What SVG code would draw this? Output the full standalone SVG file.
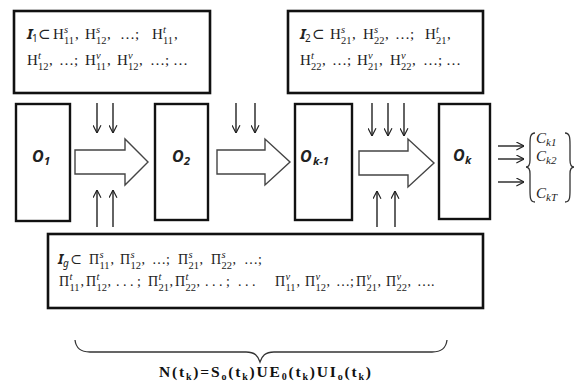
<svg xmlns="http://www.w3.org/2000/svg" width="580" height="382" viewBox="0 0 580 382">
  <style>
    .t { font-family: "Liberation Serif", "DejaVu Serif", serif; font-size: 15px; fill: #222; }
    .b { font-size: 14px; }
    .sc { font-size: 10.5px; }
    .it { font-style: italic; }
    .bi { font-family: "Noto Sans", "DejaVu Sans", sans-serif; font-style: italic; font-weight: bold; }
    .sub1 { font-family: "Noto Sans", "DejaVu Sans", sans-serif; font-size: 10px; }
    .box { fill: #fff; stroke: #111; stroke-width: 2.6; }
    .obox { fill: #fff; stroke: #111; stroke-width: 2.4; }
    .big { fill: #fff; stroke: #444; stroke-width: 1.4; stroke-linejoin: miter; }
    .small { fill: none; stroke: #222; stroke-width: 1.4; marker-end: url(#head); }
    .lab { font-family: "Noto Sans", "DejaVu Sans", sans-serif; font-size: 16px; font-style: italic; font-weight: bold; fill: #222; }
    .labsub { font-size: 11px; }
    .ck { font-family: "Liberation Serif", "DejaVu Serif", serif; font-size: 15px; font-style: italic; fill: #222; }
    .brace { fill: none; stroke: #333; stroke-width: 1.3; }
    .form { font-family: "Liberation Serif", "Times New Roman", serif; font-size: 15.5px; font-weight: bold; fill: #111; }
  </style>
  <defs>
    <marker id="head" viewBox="0 0 10 10" refX="9.5" refY="5" markerWidth="9" markerHeight="9" markerUnits="userSpaceOnUse" orient="auto">
      <path d="M1,0.6 L9.5,5 L1,9.4" fill="none" stroke="#222" stroke-width="1.3"/>
    </marker>
  </defs>

  <!-- input set I1 -->
  <g id="input-i1">
    <rect class="box" x="14" y="11" width="196" height="82"/>
    <text class="t">
      <tspan x="27" y="39" class="bi">I</tspan><tspan x="32" y="42" class="sub1">1</tspan><tspan x="38" y="39">⊂</tspan>
      <tspan x="53" y="39">H</tspan><tspan x="64" y="33" class="sc it">s</tspan><tspan x="64" y="43.5" class="sc">11</tspan><tspan x="75" y="39">,</tspan>
      <tspan x="85" y="39">H</tspan><tspan x="96" y="33" class="sc it">s</tspan><tspan x="96" y="43.5" class="sc">12</tspan><tspan x="107" y="39">,</tspan>
      <tspan x="120" y="39">…;</tspan>
      <tspan x="152" y="39">H</tspan><tspan x="163" y="33" class="sc it">t</tspan><tspan x="163" y="43.5" class="sc">11</tspan><tspan x="174" y="39">,</tspan>
      <tspan x="27" y="65">H</tspan><tspan x="38" y="59" class="sc it">t</tspan><tspan x="38" y="69.5" class="sc">12</tspan><tspan x="49" y="65">,</tspan>
      <tspan x="59" y="65">…;</tspan>
      <tspan x="85" y="65">H</tspan><tspan x="96" y="59" class="sc it">v</tspan><tspan x="96" y="69.5" class="sc">11</tspan><tspan x="107" y="65">,</tspan>
      <tspan x="117" y="65">H</tspan><tspan x="128" y="59" class="sc it">v</tspan><tspan x="128" y="69.5" class="sc">12</tspan><tspan x="139" y="65">,</tspan>
      <tspan x="150" y="65">…; …</tspan>
    </text>
  </g>

  <!-- input set I2 -->
  <g id="input-i2">
    <rect class="box" x="288" y="11" width="195" height="82"/>
    <text class="t">
      <tspan x="300" y="39" class="bi">I</tspan><tspan x="305" y="42" class="sub1">2</tspan><tspan x="312" y="39">⊂</tspan>
      <tspan x="330" y="39">H</tspan><tspan x="341" y="33" class="sc it">s</tspan><tspan x="341" y="43.5" class="sc">21</tspan><tspan x="352" y="39">,</tspan>
      <tspan x="363" y="39">H</tspan><tspan x="374" y="33" class="sc it">s</tspan><tspan x="374" y="43.5" class="sc">22</tspan><tspan x="385" y="39">,</tspan>
      <tspan x="395" y="39">…;</tspan>
      <tspan x="425" y="39">H</tspan><tspan x="436" y="33" class="sc it">t</tspan><tspan x="436" y="43.5" class="sc">21</tspan><tspan x="447" y="39">,</tspan>
      <tspan x="300" y="65">H</tspan><tspan x="311" y="59" class="sc it">t</tspan><tspan x="311" y="69.5" class="sc">22</tspan><tspan x="322" y="65">,</tspan>
      <tspan x="332" y="65">…;</tspan>
      <tspan x="357" y="65">H</tspan><tspan x="368" y="59" class="sc it">v</tspan><tspan x="368" y="69.5" class="sc">21</tspan><tspan x="379" y="65">,</tspan>
      <tspan x="390" y="65">H</tspan><tspan x="401" y="59" class="sc it">v</tspan><tspan x="401" y="69.5" class="sc">22</tspan><tspan x="412" y="65">,</tspan>
      <tspan x="423" y="65">…; …</tspan>
    </text>
  </g>

  <!-- states O -->
  <g id="state-o1">
    <rect class="obox" x="16" y="104" width="54" height="117"/>
    <text class="lab"><tspan x="32" y="162">O</tspan><tspan x="44" y="165" class="labsub">1</tspan></text>
  </g>
  <g id="state-o2">
    <rect class="obox" x="155" y="104" width="53" height="116"/>
    <text class="lab"><tspan x="172" y="162">O</tspan><tspan x="184" y="165" class="labsub">2</tspan></text>
  </g>
  <g id="state-ok-1">
    <rect class="obox" x="295" y="104" width="57" height="116"/>
    <text class="lab"><tspan x="300" y="162">O</tspan><tspan x="313" y="165" class="labsub">k-1</tspan></text>
  </g>
  <g id="state-ok">
    <rect class="obox" x="439" y="104" width="51" height="115"/>
    <text class="lab"><tspan x="453" y="161">O</tspan><tspan x="465" y="164" class="labsub">k</tspan></text>
  </g>

  <!-- input set Ig -->
  <g id="input-ig">
    <rect class="box" x="48" y="234" width="435" height="74"/>
    <text class="t b">
      <tspan x="58" y="264" class="bi">I</tspan><tspan x="63" y="267" class="sub1 it">g</tspan><tspan x="70" y="264">⊂</tspan>
      <tspan x="89" y="264">Π</tspan><tspan x="99.5" y="258" class="sc it">s</tspan><tspan x="99.5" y="268.5" class="sc">11</tspan><tspan x="110.5" y="264">,</tspan>
      <tspan x="120" y="264">Π</tspan><tspan x="130.5" y="258" class="sc it">s</tspan><tspan x="130.5" y="268.5" class="sc">12</tspan><tspan x="141.5" y="264">,</tspan>
      <tspan x="152" y="264">…;</tspan>
      <tspan x="178" y="264">Π</tspan><tspan x="188.5" y="258" class="sc it">s</tspan><tspan x="188.5" y="268.5" class="sc">21</tspan><tspan x="199.5" y="264">,</tspan>
      <tspan x="211" y="264">Π</tspan><tspan x="221.5" y="258" class="sc it">s</tspan><tspan x="221.5" y="268.5" class="sc">22</tspan><tspan x="232.5" y="264">,</tspan>
      <tspan x="244" y="264">…;</tspan>
      <tspan x="59" y="286">Π</tspan><tspan x="69.5" y="280" class="sc it">t</tspan><tspan x="69.5" y="290.5" class="sc">11</tspan><tspan x="80.5" y="286">,</tspan>
      <tspan x="86" y="286">Π</tspan><tspan x="96.5" y="280" class="sc it">t</tspan><tspan x="96.5" y="290.5" class="sc">12</tspan><tspan x="107.5" y="286">,</tspan>
      <tspan x="116" y="286">. . . ;</tspan>
      <tspan x="148" y="286">Π</tspan><tspan x="158.5" y="280" class="sc it">t</tspan><tspan x="158.5" y="290.5" class="sc">21</tspan><tspan x="169.5" y="286">,</tspan>
      <tspan x="175" y="286">Π</tspan><tspan x="185.5" y="280" class="sc it">t</tspan><tspan x="185.5" y="290.5" class="sc">22</tspan><tspan x="196.5" y="286">,</tspan>
      <tspan x="205" y="286">. . . ;</tspan>
      <tspan x="238" y="286">. . .</tspan>
      <tspan x="275" y="286">Π</tspan><tspan x="285.5" y="280" class="sc it">v</tspan><tspan x="285.5" y="290.5" class="sc">11</tspan><tspan x="296.5" y="286">,</tspan>
      <tspan x="305" y="286">Π</tspan><tspan x="315.5" y="280" class="sc it">v</tspan><tspan x="315.5" y="290.5" class="sc">12</tspan><tspan x="326.5" y="286">,</tspan>
      <tspan x="336" y="286">…;</tspan>
      <tspan x="356" y="286">Π</tspan><tspan x="366.5" y="280" class="sc it">v</tspan><tspan x="366.5" y="290.5" class="sc">21</tspan><tspan x="377.5" y="286">,</tspan>
      <tspan x="386" y="286">Π</tspan><tspan x="396.5" y="280" class="sc it">v</tspan><tspan x="396.5" y="290.5" class="sc">22</tspan><tspan x="407.5" y="286">,</tspan>
      <tspan x="417" y="286">….</tspan>
    </text>
  </g>

  <!-- outcomes C -->
  <g id="outcomes-c">
    <path class="brace" d="M535,133 C530,133 530,138 530,145 L530,160 C530,165 529,167 526,167 C529,167 530,169 530,174 L530,190 C530,197 530,202 535,202"/>
    <path class="brace" d="M565,133 C570,133 570,138 570,145 L570,160 C570,165 571,167 574,167 C571,167 570,169 570,174 L570,190 C570,197 570,202 565,202"/>
    <text class="ck">
      <tspan x="536" y="143">C</tspan><tspan x="546" y="146" font-size="11">k1</tspan>
      <tspan x="536" y="161">C</tspan><tspan x="546" y="164" font-size="11">k2</tspan>
      <tspan x="536" y="198">C</tspan><tspan x="546" y="201" font-size="11">kT</tspan>
    </text>
  </g>

  <!-- transitions and inputs -->
  <g id="connectors">
    <path class="big" d="M75,150 L125,150 L125,139 L148,162 L125,185 L125,174 L75,174 Z"/>
    <path class="big" d="M217,150 L265,150 L265,139 L290,162 L265,185 L265,174 L217,174 Z"/>
    <path class="big" d="M359,151 L408,151 L408,139 L434,163 L408,187 L408,175 L359,175 Z"/>

    <line class="small" x1="97" y1="103" x2="97" y2="133"/>
    <line class="small" x1="113" y1="103" x2="113" y2="133"/>
    <line class="small" x1="236" y1="103" x2="236" y2="133"/>
    <line class="small" x1="255" y1="103" x2="255" y2="133"/>
    <line class="small" x1="372" y1="103" x2="372" y2="136"/>
    <line class="small" x1="388" y1="103" x2="388" y2="136"/>
    <line class="small" x1="404" y1="103" x2="404" y2="136"/>

    <line class="small" x1="97" y1="227" x2="97" y2="190"/>
    <line class="small" x1="113" y1="227" x2="113" y2="190"/>
    <line class="small" x1="377" y1="227" x2="377" y2="191"/>
    <line class="small" x1="395" y1="227" x2="395" y2="191"/>

    <line class="small" x1="498" y1="146" x2="524" y2="146"/>
    <line class="small" x1="498" y1="159" x2="524" y2="159"/>
    <line class="small" x1="498" y1="182" x2="524" y2="182"/>
  </g>

  <!-- overall brace and formula -->
  <g id="summary">
    <path class="brace" d="M75,340 C76,348 80,352 90,352 L246,352 C255,352 258,356 260,362 C262,356 265,352 274,352 L432,352 C442,352 446,348 447,340"/>
    <text class="form" x="159" y="377" textLength="212" lengthAdjust="spacing">N(t<tspan dy="3" font-size="10">k</tspan><tspan dy="-3">)=S</tspan><tspan dy="3" font-size="10">o</tspan><tspan dy="-3">(t</tspan><tspan dy="3" font-size="10">k</tspan><tspan dy="-3">)UE</tspan><tspan dy="3" font-size="10">0</tspan><tspan dy="-3">(t</tspan><tspan dy="3" font-size="10">k</tspan><tspan dy="-3">)UI</tspan><tspan dy="3" font-size="10">o</tspan><tspan dy="-3">(t</tspan><tspan dy="3" font-size="10">k</tspan><tspan dy="-3">)</tspan></text>
  </g>
</svg>
